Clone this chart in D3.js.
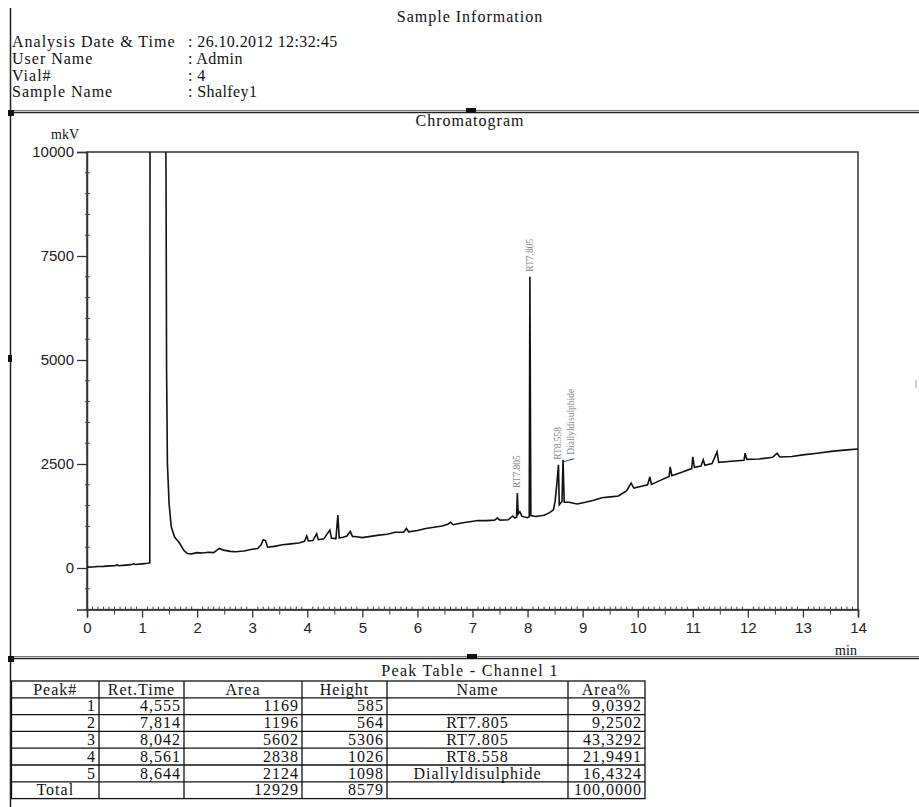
<!DOCTYPE html>
<html>
<head>
  <meta charset="utf-8">
  <title>Chromatogram - Shalfey1</title>
  <style>
    body { margin: 0; background: #fff; }
    text { font-family: "Liberation Serif", "Times New Roman", serif; fill: #111; }
    .tick text { font-family: "Liberation Sans", Arial, sans-serif; font-size: 15px; fill: #222; }
  </style>
</head>
<body>
<svg width="919" height="807"></svg>
<script src="https://d3js.org/d3.v7.min.js"></script>
<script>
// ---- data ----
var infoLabels = ["Analysis Date & Time", "User Name", "Vial#", "Sample Name"];
var infoValues = [": 26.10.2012 12:32:45", ": Admin", ": 4", ": Shalfey1"];

// detector trace (min, mkV)
var traceTime = [0.00, 0.10, 0.20, 0.30, 0.40, 0.50, 0.55, 0.58, 0.70, 0.80, 0.85, 0.88, 1.00, 1.10, 1.14,
  1.145, 1.42, 1.435, 1.445, 1.46, 1.49, 1.53, 1.59, 1.68, 1.76, 1.82, 1.90, 2.00, 2.10, 2.20, 2.30,
  2.40, 2.48, 2.60, 2.70, 2.85, 3.00, 3.10, 3.16, 3.20, 3.24, 3.28, 3.40, 3.55, 3.70, 3.85, 3.95, 3.99,
  4.02, 4.10, 4.17, 4.20, 4.30, 4.41, 4.44, 4.52, 4.555, 4.58, 4.65, 4.72, 4.78, 4.82, 4.90, 5.00, 5.15,
  5.30, 5.45, 5.60, 5.75, 5.80, 5.84, 6.00, 6.15, 6.30, 6.45, 6.55, 6.60, 6.65, 6.80, 6.95, 7.10, 7.25,
  7.40, 7.45, 7.50, 7.65, 7.73, 7.77, 7.80, 7.814, 7.83, 7.86, 7.90, 8.00, 8.03, 8.042, 8.06, 8.15, 8.30,
  8.40, 8.47, 8.50, 8.53, 8.561, 8.575, 8.60, 8.625, 8.644, 8.665, 8.75, 8.90, 9.05, 9.20, 9.35, 9.50,
  9.65, 9.80, 9.88, 9.93, 10.05, 10.18, 10.22, 10.25, 10.40, 10.57, 10.59, 10.62, 10.80, 10.98, 11.00,
  11.03, 11.15, 11.19, 11.22, 11.35, 11.44, 11.47, 11.65, 11.93, 11.95, 11.98, 12.20, 12.45, 12.53,
  12.58, 12.80, 13.00, 13.26, 13.55, 13.80, 14.00];
var traceMkV = [20, 25, 35, 40, 50, 55, 75, 55, 70, 80, 100, 85, 100, 115, 125,
  11500, 11500, 9500, 4760, 2520, 1560, 990, 745, 600, 420, 350, 340, 370, 360, 380, 370,
  470, 430, 400, 390, 410, 450, 470, 560, 680, 660, 500, 520, 560, 580, 600, 640, 770,
  650, 660, 820, 680, 700, 915, 720, 700, 1270, 720, 740, 770, 880, 760, 750, 730, 760,
  790, 810, 860, 860, 950, 870, 900, 950, 980, 1010, 1050, 1100, 1040, 1080, 1110, 1140, 1140,
  1150, 1200, 1150, 1160, 1250, 1200, 1220, 1800, 1300, 1350, 1240, 1210, 1230, 7000, 1260, 1240, 1270,
  1330, 1400, 1600, 2000, 2480, 1520, 1560, 1600, 2600, 1580, 1580, 1540, 1580, 1630, 1690, 1710,
  1730, 1860, 2040, 1920, 1960, 2000, 2190, 2010, 2100, 2200, 2430, 2220, 2300, 2390, 2670,
  2420, 2450, 2600, 2470, 2510, 2790, 2540, 2560, 2590, 2760, 2610, 2620, 2660, 2760,
  2670, 2680, 2720, 2760, 2810, 2840, 2860];

// named peaks annotated on the trace
var labelTime = [7.814, 8.042, 8.561, 8.644];
var labelText = ["RT7.805", "RT7.805", "RT8.558", "Diallyldisulphide"];

// axes
var yMajor = [0, 2500, 5000, 7500, 10000];
var xTicks = d3.range(0, 15);

// peak table
var tableTitle = "Peak Table - Channel 1";
var tableHeader = ["Peak#", "Ret.Time", "Area", "Height", "Name", "Area%"];
var peakNo = ["1", "2", "3", "4", "5", "Total"];
var retTime = ["4,555", "7,814", "8,042", "8,561", "8,644", ""];
var peakArea = ["1169", "1196", "5602", "2838", "2124", "12929"];
var peakHeight = ["585", "564", "5306", "1026", "1098", "8579"];
var peakName = ["", "RT7.805", "RT7.805", "RT8.558", "Diallyldisulphide", ""];
var areaPct = ["9,0392", "9,2502", "43,3292", "21,9491", "16,4324", "100,0000"];

// ---- drawing ----
var svg = d3.select("svg");
var ink = "#222";

// page frame lines
svg.append("line").attr("x1", 10.5).attr("x2", 10.5).attr("y1", 8).attr("y2", 807)
  .attr("stroke", ink).attr("stroke-width", 1.5);

function doubleRule(yy) {
  svg.append("line").attr("x1", 10).attr("x2", 919).attr("y1", yy - 1.5).attr("y2", yy - 1.5)
    .attr("stroke", "#777").attr("stroke-width", 1);
  svg.append("line").attr("x1", 10).attr("x2", 919).attr("y1", yy + 0.5).attr("y2", yy + 0.5)
    .attr("stroke", ink).attr("stroke-width", 1.5);
}
doubleRule(112);
doubleRule(658);

// little black handles of the report viewer
[[8, 110, 6, 6], [466, 108, 10, 5], [8, 355, 4, 7], [8, 656, 6, 6], [467, 654, 10, 5]].forEach(function (r) {
  svg.append("rect").attr("x", r[0]).attr("y", r[1]).attr("width", r[2]).attr("height", r[3]).attr("fill", "#111");
});
svg.append("rect").attr("x", 915).attr("y", 380).attr("width", 2).attr("height", 8).attr("fill", "#ccc");

// header block
function stext(x, y, s, anchor) {
  return svg.append("text").attr("x", x).attr("y", y).text(s)
    .attr("font-size", "16px").attr("letter-spacing", "1px")
    .attr("text-anchor", anchor || "start");
}
stext(470, 22, "Sample Information", "middle");
infoLabels.forEach(function (s, i) {
  stext(12, 47 + i * 16.8, s);
  stext(188, 47 + i * 16.8, infoValues[i]).attr("letter-spacing", "0.4px");
});
stext(470, 126, "Chromatogram", "middle");
stext(65, 139, "mkV", "middle").attr("font-size", "14px").attr("letter-spacing", "0px");

// scales
var x = d3.scaleLinear().domain([0, 14]).range([87, 858]);
var y = d3.scaleLinear().domain([-1000, 10000]).range([609.6, 152]);

// plot frame
svg.append("rect").attr("x", x(0)).attr("y", y(10000)).attr("width", x(14) - x(0)).attr("height", y(-1000) - y(10000))
  .attr("fill", "none").attr("stroke", "#333").attr("stroke-width", 1.5);

// y axis
var yAxis = svg.append("g").attr("transform", "translate(" + x(0) + ",0)")
  .call(d3.axisLeft(y).tickValues(yMajor).tickSize(10).tickPadding(3).tickFormat(d3.format("d")));
yAxis.select(".domain").attr("stroke", "#333").attr("stroke-width", 1.5);
yAxis.selectAll(".tick line").attr("stroke", "#333").attr("stroke-width", 1.3);

var yMinor = d3.range(-500, 10000, 500).filter(function (d) { return d % 2500 !== 0; });
svg.selectAll(".yminor").data(yMinor).enter().append("line")
  .attr("x1", x(0) - 2).attr("x2", x(0) + 3)
  .attr("y1", function (d) { return y(d); }).attr("y2", function (d) { return y(d); })
  .attr("stroke", "#444").attr("stroke-width", 1);

// x axis
var xAxis = svg.append("g").attr("transform", "translate(0," + y(-1000) + ")")
  .call(d3.axisBottom(x).tickValues(xTicks).tickSize(8).tickPadding(5).tickFormat(d3.format("d")));
xAxis.select(".domain").attr("stroke", "#333").attr("stroke-width", 1.5);
xAxis.selectAll(".tick line").attr("stroke", "#333").attr("stroke-width", 1.3);

var xMinor = d3.range(1, 140).filter(function (d) { return d % 10 !== 0; }).map(function (d) { return d / 10; });
svg.selectAll(".xminor").data(xMinor).enter().append("line")
  .attr("x1", function (d) { return x(d); }).attr("x2", function (d) { return x(d); })
  .attr("y1", y(-1000) - 3)
  .attr("y2", function (d) { return Math.abs(d % 1 - 0.5) < 1e-6 ? y(-1000) + 5 : y(-1000); })
  .attr("stroke", "#444").attr("stroke-width", 1);

svg.append("text").attr("x", x(14) - 12).attr("y", 655).attr("text-anchor", "middle")
  .attr("font-size", "14px").text("min");

// trace
svg.append("clipPath").attr("id", "plotclip").append("rect")
  .attr("x", x(0)).attr("y", y(10000)).attr("width", x(14) - x(0)).attr("height", y(-1000) - y(10000));

var trace = traceTime.map(function (t, i) { return [t, traceMkV[i]]; });
svg.append("path").datum(trace)
  .attr("clip-path", "url(#plotclip)")
  .attr("fill", "none").attr("stroke", "#111").attr("stroke-width", 1.6)
  .attr("d", d3.line().x(function (d) { return x(d[0]); }).y(function (d) { return y(d[1]); }));

// peak annotations (rotated, grey)
labelTime.forEach(function (t, i) {
  var top = d3.max(trace.filter(function (d) { return Math.abs(d[0] - t) < 0.015; }), function (d) { return d[1]; });
  var px = x(t), py = y(top);
  var shift = i === labelTime.length - 1 ? 8 : 0;
  if (shift) {
    svg.append("line").attr("x1", px).attr("y1", py + 2).attr("x2", px + shift + 3).attr("y2", py - 1)
      .attr("stroke", "#2a3a8a").attr("stroke-width", 1);
  }
  svg.append("text")
    .attr("transform", "translate(" + (px + shift + 3) + "," + (py - 5) + ") rotate(-90)")
    .attr("font-size", "9.5px").style("fill", "#8a8a8a")
    .text(labelText[i]);
});

// peak table
stext(470, 676, tableTitle, "middle").attr("letter-spacing", "1.3px");
var colX = [11.5, 99, 184, 302, 387, 568, 645];
var rowTop = 681, rowH = 16.8;
var rows = [tableHeader].concat(peakNo.map(function (p, i) {
  return [p, retTime[i], peakArea[i], peakHeight[i], peakName[i], areaPct[i]];
}));

var tbl = svg.append("g");
tbl.append("rect").attr("x", colX[0]).attr("y", rowTop)
  .attr("width", colX[6] - colX[0]).attr("height", rowH * rows.length)
  .attr("fill", "none").attr("stroke", "#111").attr("stroke-width", 1.3);
colX.slice(1, 6).forEach(function (cx) {
  tbl.append("line").attr("x1", cx).attr("x2", cx).attr("y1", rowTop).attr("y2", rowTop + rowH * rows.length)
    .attr("stroke", "#111").attr("stroke-width", 1.3);
});
d3.range(1, rows.length).forEach(function (r) {
  tbl.append("line").attr("x1", colX[0]).attr("x2", colX[6])
    .attr("y1", rowTop + r * rowH).attr("y2", rowTop + r * rowH)
    .attr("stroke", "#111").attr("stroke-width", 1.3);
});
rows.forEach(function (row, r) {
  row.forEach(function (cell, c) {
    if (!cell) return;
    var centered = r === 0 || c === 4 || cell === "Total";
    var tx = centered ? (colX[c] + colX[c + 1]) / 2 : colX[c + 1] - 3;
    tbl.append("text")
      .attr("x", tx).attr("y", rowTop + r * rowH + 13.5)
      .attr("text-anchor", centered ? "middle" : "end")
      .attr("font-size", "16px").attr("letter-spacing", "1px")
      .text(cell);
  });
});
</script>
</body>
</html>
